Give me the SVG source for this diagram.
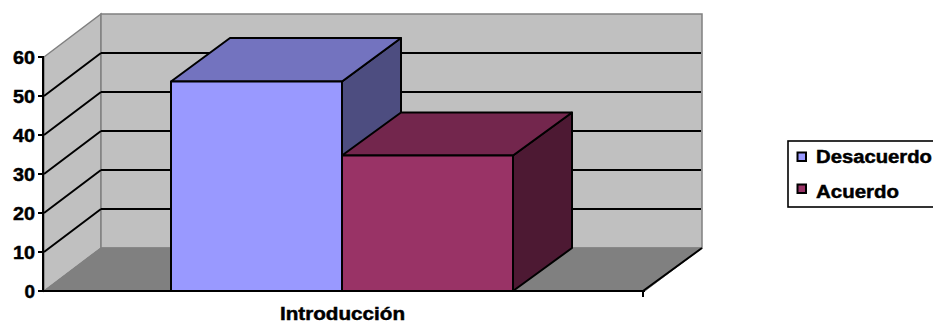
<svg xmlns="http://www.w3.org/2000/svg" width="933" height="323" viewBox="0 0 933 323">
<style>
.wall{fill:#C0C0C0;stroke:#808080;stroke-width:1.5}
.floor{fill:#808080;stroke:#808080;stroke-width:1}
.grid{stroke:#000;stroke-width:2;fill:none}
.edge{stroke:#000;stroke-width:2;stroke-linejoin:round}
.lbl{font-family:"Liberation Sans",Arial,sans-serif;font-weight:bold;font-size:17.5px;fill:#000;stroke:#000;stroke-width:0.45}
.ax{font-size:18px}
</style>
<rect width="933" height="323" fill="#fff"/>
<g id="walls">
<polygon class="wall" points="44,57 101,14 101,248 44,291"/>
<rect class="wall" x="101" y="14" width="601" height="234"/>
<polygon class="floor" points="44,291 101,248 702,248 645,291"/>
</g>
<g id="gridlines">
<path class="grid" d="M101,209H701M101,170H701M101,131H701M101,92H701M101,53H701"/>
<path class="grid" d="M44,252L101,209M44,213L101,170M44,174L101,131M44,135L101,92M44,96L101,53"/>
</g>
<g id="axes">
<path class="grid" d="M43,56V292M38,57H43M38,96H43M38,135H43M38,174H43M38,213H43M38,252H43M38,291H43"/>
<path class="grid" d="M42,291H645M643,291L702,248M643,290V297"/>
<text class="lbl ax" x="35" y="63.5" text-anchor="end" textLength="22" lengthAdjust="spacingAndGlyphs">60</text>
<text class="lbl ax" x="35" y="102.5" text-anchor="end" textLength="22" lengthAdjust="spacingAndGlyphs">50</text>
<text class="lbl ax" x="35" y="141.5" text-anchor="end" textLength="22" lengthAdjust="spacingAndGlyphs">40</text>
<text class="lbl ax" x="35" y="180.5" text-anchor="end" textLength="22" lengthAdjust="spacingAndGlyphs">30</text>
<text class="lbl ax" x="35" y="219.5" text-anchor="end" textLength="22" lengthAdjust="spacingAndGlyphs">20</text>
<text class="lbl ax" x="35" y="258.5" text-anchor="end" textLength="22" lengthAdjust="spacingAndGlyphs">10</text>
<text class="lbl ax" x="35" y="297.5" text-anchor="end" textLength="10.5" lengthAdjust="spacingAndGlyphs">0</text>
<text class="lbl" x="280" y="319.5" textLength="125" lengthAdjust="spacingAndGlyphs">Introducción</text>
</g>
<g id="bar-desacuerdo">
<polygon class="edge" fill="#4D4D80" points="342,81.5 401,38 401,248 342,291"/>
<polygon class="edge" fill="#7373BF" points="171,81.5 230,38 401,38 342,81.5"/>
<rect class="edge" fill="#9999FF" x="171" y="81.5" width="171" height="209.5"/>
</g>
<g id="bar-acuerdo">
<polygon class="edge" fill="#4D1933" points="513,155.5 572,112.5 572,248 513,291"/>
<polygon class="edge" fill="#73264D" points="342,155.5 401,112.5 572,112.5 513,155.5"/>
<rect class="edge" fill="#993366" x="342" y="155.5" width="171" height="135.5"/>
</g>
<g id="legend">
<rect x="788" y="141" width="160" height="66" fill="#fff" stroke="#000" stroke-width="1.6"/>
<rect x="797.5" y="152.5" width="8.5" height="8.5" fill="#9999FF" stroke="#000" stroke-width="2"/>
<rect x="797.5" y="184.5" width="8.5" height="8.5" fill="#993366" stroke="#000" stroke-width="2"/>
<text class="lbl" x="816" y="163" textLength="116" lengthAdjust="spacingAndGlyphs">Desacuerdo</text>
<text class="lbl" x="816" y="198" textLength="83" lengthAdjust="spacingAndGlyphs">Acuerdo</text>
</g>
</svg>
